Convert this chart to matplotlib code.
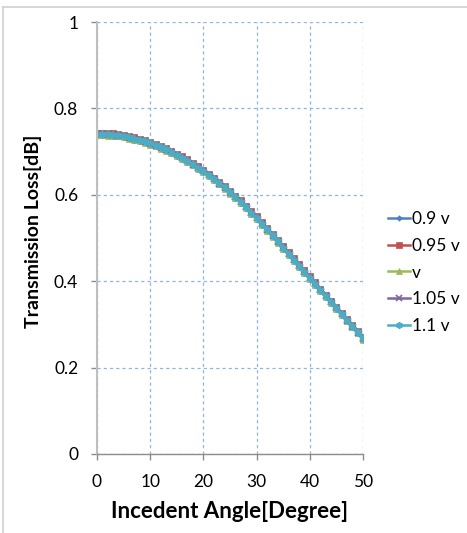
import matplotlib
matplotlib.use("Agg")
import matplotlib.pyplot as plt
from matplotlib.lines import Line2D

angles = list(range(0, 51))

tl_090 = [0.742,0.742,0.741,0.740,0.739,0.737,0.734,0.731,0.728,0.725,
          0.720,0.716,0.711,0.706,0.700,0.693,0.687,0.680,0.672,0.664,
          0.656,0.647,0.638,0.628,0.618,0.607,0.596,0.585,0.573,0.560,
          0.548,0.534,0.521,0.507,0.493,0.479,0.465,0.451,0.437,0.423,
          0.409,0.395,0.381,0.367,0.353,0.339,0.325,0.311,0.297,0.283,
          0.269]
tl_095 = [0.744,0.744,0.743,0.742,0.741,0.739,0.736,0.733,0.730,0.727,
          0.722,0.718,0.713,0.708,0.702,0.695,0.689,0.682,0.674,0.666,
          0.658,0.649,0.640,0.630,0.620,0.609,0.598,0.587,0.575,0.562,
          0.550,0.536,0.523,0.509,0.495,0.481,0.467,0.453,0.439,0.425,
          0.411,0.397,0.383,0.369,0.355,0.341,0.327,0.313,0.299,0.285,
          0.271]
tl_100 = [0.738,0.738,0.737,0.736,0.735,0.733,0.730,0.727,0.724,0.721,
          0.716,0.712,0.707,0.702,0.696,0.689,0.683,0.676,0.668,0.660,
          0.652,0.643,0.634,0.624,0.614,0.603,0.592,0.581,0.569,0.556,
          0.544,0.530,0.517,0.503,0.489,0.475,0.461,0.447,0.433,0.419,
          0.405,0.391,0.377,0.363,0.349,0.335,0.321,0.307,0.293,0.279,
          0.265]
tl_105 = [0.740,0.740,0.739,0.738,0.737,0.735,0.732,0.729,0.726,0.723,
          0.718,0.714,0.709,0.704,0.698,0.691,0.685,0.678,0.670,0.662,
          0.654,0.645,0.636,0.626,0.616,0.605,0.594,0.583,0.571,0.558,
          0.546,0.532,0.519,0.505,0.491,0.477,0.463,0.449,0.435,0.421,
          0.407,0.393,0.379,0.365,0.351,0.337,0.323,0.309,0.295,0.281,
          0.267]
tl_110 = [0.741,0.741,0.740,0.739,0.738,0.736,0.733,0.730,0.727,0.724,
          0.719,0.715,0.710,0.705,0.699,0.692,0.686,0.679,0.671,0.663,
          0.655,0.646,0.637,0.627,0.617,0.606,0.595,0.584,0.572,0.559,
          0.547,0.533,0.520,0.506,0.492,0.478,0.464,0.450,0.436,0.422,
          0.408,0.394,0.380,0.366,0.352,0.338,0.324,0.310,0.296,0.282,
          0.268]

series_labels = ["0.9 v", "0.95 v", "v", "1.05 v", "1.1 v"]
series_values = [tl_090, tl_095, tl_100, tl_105, tl_110]
x_ticks = [0, 10, 20, 30, 40, 50]
y_ticks = [0, 0.2, 0.4, 0.6, 0.8, 1]
y_tick_labels = ["0", "0.2", "0.4", "0.6", "0.8", "1"]

colors = ["#4f81bd", "#c0504d", "#9bbb59", "#8064a2", "#4bacc6"]
markers = ["D", "s", "^", "x", (6, 2, 0)]
msizes = [3.5, 5, 5, 5, 6]

plt.rcParams['font.family'] = ['Lato', 'DejaVu Sans']

fig = plt.figure(figsize=(4.67, 5.33), dpi=100)
ax = fig.add_axes([97/467, 1-454/533, (363-97)/467, (454-22)/533])

for lab, vals, c, m, ms in zip(series_labels, series_values, colors, markers, msizes):
    ax.plot(angles, vals, color=c, marker=m, markersize=ms, linewidth=2,
            markeredgewidth=1.2 if m in ("x",) or isinstance(m, tuple) else 0.5,
            markeredgecolor=c, label=lab)

ax.set_xlim(0, 50)
ax.set_ylim(0, 1)
ax.set_xticks(x_ticks)
ax.set_yticks(y_ticks)
ax.set_yticklabels(y_tick_labels)
ax.grid(True, color="#8eb4e3", linestyle=(0, (2.5, 2.5)), linewidth=0.9)
ax.set_axisbelow(True)

for s in ("top", "right"):
    ax.spines[s].set_visible(False)
ax.spines["left"].set_color("#bfbfbf")
ax.spines["left"].set_linewidth(1.5)
ax.spines["bottom"].set_color("#8c8c8c")
ax.spines["bottom"].set_linewidth(1.0)

ax.tick_params(axis="y", length=4.5, width=1, color="#8c8c8c", pad=9, labelsize=12.5, labelcolor="#000000")
ax.tick_params(axis="x", length=4.5, width=1, color="#8c8c8c", pad=10, labelsize=12.5, labelcolor="#000000")

ax.set_xlabel("Incedent Angle[Degree]", fontsize=16, fontweight="bold", labelpad=8)
ax.set_ylabel("Transmission Loss[dB]", fontsize=14, fontweight="bold")
ax.yaxis.set_label_coords(-0.205, 0.516)

leg = fig.legend(*ax.get_legend_handles_labels(), loc="upper left",
                 bbox_to_anchor=(388/467, 1-211/533), bbox_transform=fig.transFigure,
                 frameon=False, fontsize=12.5, handlelength=1.27, handletextpad=0.12,
                 labelspacing=0.62, borderaxespad=0, borderpad=0, markerscale=0.8)
for h in leg.get_lines():
    h.set_linewidth(1.8)

fig.add_artist(Line2D([3/467, 3/467], [0, 1-7/533], color="#d0d0d0", linewidth=1.2, transform=fig.transFigure))
fig.add_artist(Line2D([3/467, 1], [1-7/533, 1-7/533], color="#d0d0d0", linewidth=1.2, transform=fig.transFigure))

fig.savefig("out.png", dpi=100)
